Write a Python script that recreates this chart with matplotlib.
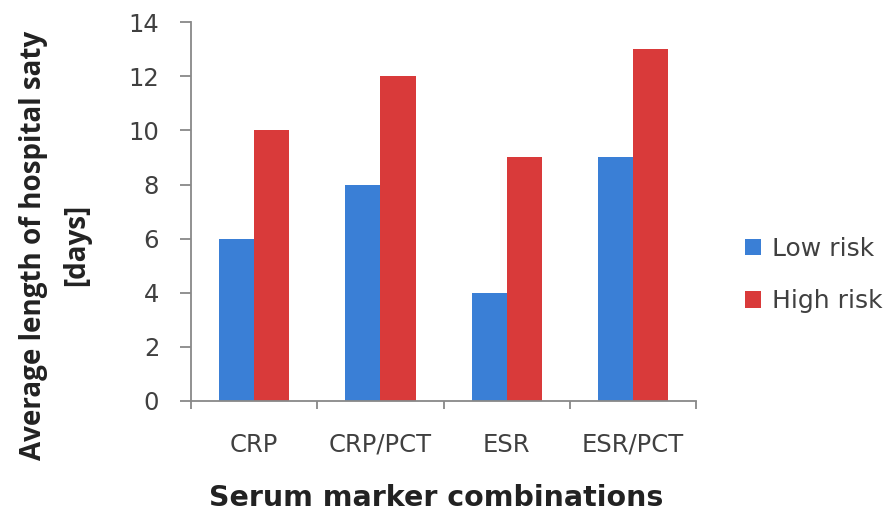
import numpy as np
import matplotlib
matplotlib.use("Agg")
import matplotlib.pyplot as plt

categories = ["CRP", "CRP/PCT", "ESR", "ESR/PCT"]
low_risk = [6, 8, 4, 9]
high_risk = [10, 12, 9, 13]
yticks = [0, 2, 4, 6, 8, 10, 12, 14]

plt.rcParams['font.family'] = ['DejaVu Sans']
txt = '#404040'

fig = plt.figure(figsize=(8.89, 5.16), dpi=100)
ax = fig.add_axes([0.215, 0.223, 0.568, 0.734])

x = np.arange(len(categories))
w = 0.278
ax.bar(x - w / 2, low_risk, width=w, color='#3a7fd6', label='Low risk')
ax.bar(x + w / 2, high_risk, width=w, color='#d93a3a', label='High risk')

ax.set_xlim(-0.5, len(categories) - 0.5)
ax.set_ylim(0, 14)
ax.set_yticks(yticks)
ax.set_yticklabels([str(v) for v in yticks], fontsize=17.5, color=txt)
ax.set_xticks(x)
ax.set_xticklabels(categories, fontsize=17.5, color=txt)
ax.set_xticks(np.arange(len(categories) + 1) - 0.5, minor=True)
ax.tick_params(axis='x', which='major', length=0, pad=23)
ax.tick_params(axis='x', which='minor', length=6, direction='out', color='#888888', width=1.3)
ax.tick_params(axis='y', length=8, direction='out', color='#888888', width=1.3, pad=15)

for s in ['top', 'right']:
    ax.spines[s].set_visible(False)
for s in ['left', 'bottom']:
    ax.spines[s].set_color('#888888')
    ax.spines[s].set_linewidth(1.3)

fig.text(436 / 889, 1 - 498 / 516, 'Serum marker combinations', fontsize=20.5,
         fontweight='bold', color='#222222', ha='center', va='center')
fig.text(55 / 889, 1 - 245 / 516, 'Average length of hospital saty\n[days]', fontsize=20,
         fontweight='bold', family=['Open Sans', 'DejaVu Sans'], color='#222222',
         rotation=90, ha='center', va='center', linespacing=1.65)

ax.legend(loc='center left', bbox_to_anchor=(745 / 889, 1 - 275 / 516),
          bbox_transform=fig.transFigure, frameon=False, fontsize=18,
          handlelength=0.64, handleheight=0.64, handletextpad=0.45,
          labelspacing=1.15, borderpad=0, borderaxespad=0, labelcolor=txt)

fig.savefig('out.png', dpi=100)
